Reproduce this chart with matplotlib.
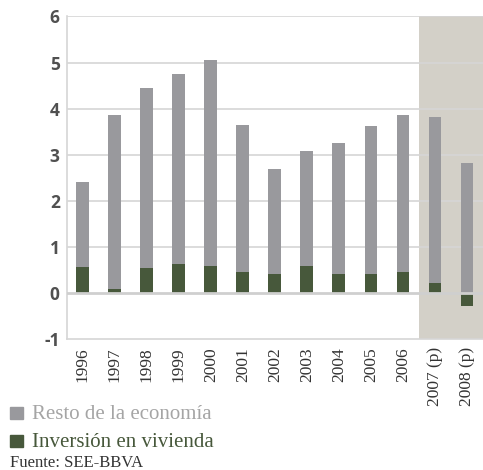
import numpy as np
import matplotlib.pyplot as plt
from matplotlib.patches import Rectangle

plt.rcParams['axes.unicode_minus'] = False

# data
years = ['1996', '1997', '1998', '1999', '2000', '2001', '2002', '2003',
         '2004', '2005', '2006', '2007 (p)', '2008 (p)']
vivienda = [0.56, 0.08, 0.54, 0.62, 0.58, 0.45, 0.41, 0.58, 0.41, 0.41, 0.45, 0.21, -0.28]
resto = [1.85, 3.78, 3.91, 4.13, 4.48, 3.19, 2.28, 2.50, 2.84, 3.21, 3.41, 3.61, 2.82]

grey = '#99999d'
green = '#47583b'
shade = '#d3d0c8'
gridc = '#d6d6d6'
txt = '#505050'

fig = plt.figure(figsize=(4.83, 4.70), dpi=100)
ax = fig.add_axes([0.138, 0.279, 0.862, 0.686])

x = np.arange(len(years))
viv = np.array(vivienda)
bottom = np.where(viv > 0, viv, 0)

ax.axvspan(10.5, 12.5, color=shade, zorder=0, lw=0)
ax.bar(x, viv, width=0.4, color=green, zorder=3)
ax.bar(x, resto, width=0.4, bottom=bottom, color=grey, zorder=3)

ax.set_xlim(-0.5, 12.5)
ax.set_ylim(-1, 6)
ax.set_yticks(range(-1, 7))
for v in range(1, 7):
    ax.axhline(v, color=gridc, lw=1.2, zorder=1)
ax.axhline(0, color='#cfcfcf', lw=2.0, zorder=4)

for s in ['top', 'right']:
    ax.spines[s].set_visible(False)
ax.spines['left'].set_color(gridc)
ax.spines['bottom'].set_color(gridc)
ax.spines['left'].set_linewidth(1.2)
ax.spines['bottom'].set_linewidth(1.2)

ax.set_xticks(x)
ax.set_xticklabels(years, rotation=90, family='Liberation Serif', fontsize=12.5, color='#333333')
ax.tick_params(axis='x', length=0, pad=6)
ax.tick_params(axis='y', length=0, pad=5)
for lab in ax.get_yticklabels():
    lab.set_family('Open Sans')
    lab.set_fontweight('bold')
    lab.set_fontsize(12.5)
    lab.set_color(txt)

# legend below
fig.patches.append(Rectangle((10 / 483, 1 - 419 / 470), 13 / 483, 12 / 470,
                             transform=fig.transFigure, color=grey))
fig.patches.append(Rectangle((10 / 483, 1 - 447 / 470), 13 / 483, 12 / 470,
                             transform=fig.transFigure, color=green))
fig.text(32 / 483, 1 - 419 / 470, 'Resto de la economía', family='Liberation Serif',
         fontsize=15, color='#a5a5a5', va='baseline')
fig.text(32 / 483, 1 - 447 / 470, 'Inversión en vivienda', family='Liberation Serif',
         fontsize=15, color=green, va='baseline')
fig.text(10 / 483, 1 - 467 / 470, 'Fuente: SEE-BBVA', family='Liberation Serif',
         fontsize=12, color='#333333', va='baseline')

fig.savefig('out.png', dpi=100)
